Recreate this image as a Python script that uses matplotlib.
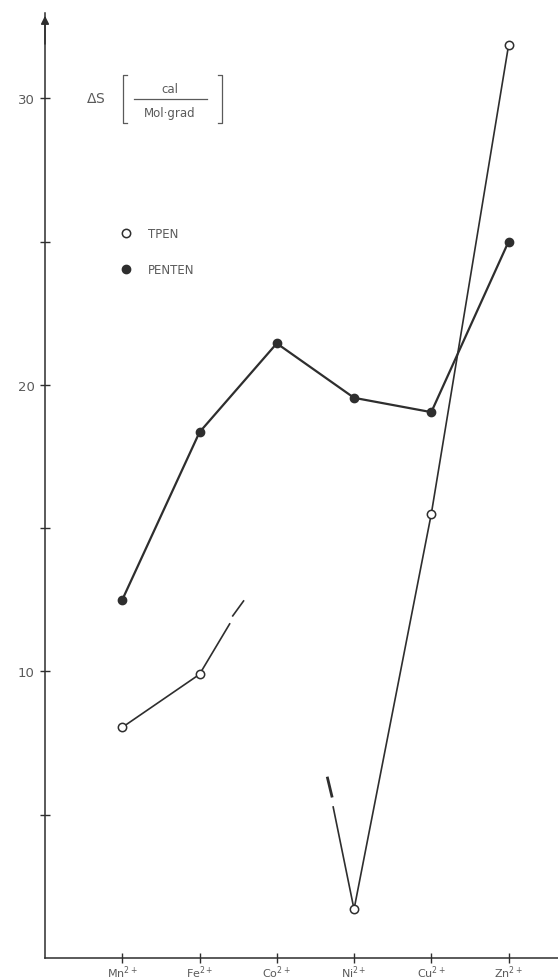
import matplotlib.pyplot as plt
from matplotlib.lines import Line2D

# Entropy of complex formation for the divalent 3d ions
ions = ['Mn', 'Fe', 'Co', 'Ni', 'Cu', 'Zn']
pos = [1, 2, 3, 4, 5, 6]

penten = [12.5, 18.35, 21.45, 19.55, 19.05, 25.0]

# TPEN has no Co value: the Fe and Ni ends only point towards it
tpen_x = [1, 2, 4, 5, 6]
tpen = [8.05, 9.9, 1.7, 15.5, 31.85]
fe_stub_x, fe_stub_y = [2.0, 2.39], [9.9, 11.66]
fe_dash_x, fe_dash_y = [2.43, 2.57], [11.94, 12.46]
ni_stub_x, ni_stub_y = [3.73, 4.0], [5.27, 1.7]
ni_dash_x, ni_dash_y = [3.657, 3.713], [6.28, 5.65]

ink = '#2e2e2e'
grey = '#5a5a5a'

fig = plt.figure(figsize=(5.58, 9.79), dpi=100)
fig.patch.set_facecolor('white')
ax = fig.add_axes([45 / 558, 20 / 979, 513 / 558, 945 / 979])

ax.plot(pos, penten, c=ink, lw=1.6, marker='o', ms=6,
        mfc=ink, mec=ink, zorder=3)

ax.plot(tpen_x[:2], tpen[:2], c=ink, lw=1.2, zorder=2)
ax.plot(tpen_x[2:], tpen[2:], c=ink, lw=1.2, zorder=2)
for xs, ys in [(fe_stub_x, fe_stub_y), (fe_dash_x, fe_dash_y),
               (ni_stub_x, ni_stub_y)]:
    ax.plot(xs, ys, c=ink, lw=1.2, zorder=2)
ax.plot(ni_dash_x, ni_dash_y, c=ink, lw=2.0, zorder=2)
ax.plot(tpen_x, tpen, ls='none', marker='o', ms=6, mfc='white',
        mec=ink, mew=1.1, zorder=4)

ax.set_xlim(0, 6.64)
ax.set_ylim(0, 32.98)

for side in ['top', 'right']:
    ax.spines[side].set_visible(False)
for side in ['left', 'bottom']:
    ax.spines[side].set_color(ink)
    ax.spines[side].set_linewidth(1.1)

ax.set_xticks(pos)
ax.set_xticklabels([f'{n}$^{{2+}}$' for n in ions])
ax.set_yticks([5, 10, 15, 20, 25, 30])
ax.set_yticklabels(['', '10', '', '20', '', '30'])
ax.tick_params(axis='both', direction='inout', length=7, width=1.0,
               color=ink, labelcolor=grey, labelsize=9.5, pad=4)
ax.tick_params(axis='x', labelsize=8, pad=0.3)

# arrow head on top of the y axis
ax.annotate('', xy=(0, 32.98), xytext=(0, 31.8),
            arrowprops=dict(arrowstyle='-|>', color=ink, lw=1.1,
                            mutation_scale=12),
            annotation_clip=False)

# axis title: Delta S [cal / Mol.grad]
def px(x, y):
    return x / 558, 1 - y / 979

fig.text(*px(86, 99), r'$\Delta$S', fontsize=10, color=grey,
         ha='left', va='center')
fig.text(*px(170, 90), 'cal', fontsize=8.5, color=grey,
         ha='center', va='center')
fig.text(*px(170, 113), 'Mol·grad', fontsize=8.5, color=grey,
         ha='center', va='center')
frac = [px(134, 100), px(207, 100)]
fig.add_artist(Line2D([frac[0][0], frac[1][0]], [frac[0][1], frac[1][1]],
                      color=grey, lw=0.9))
for x0, d in [(123, 4), (222, -4)]:
    pts = [px(x0 + d, 76), px(x0, 76), px(x0, 124), px(x0 + d, 124)]
    fig.add_artist(Line2D([p[0] for p in pts], [p[1] for p in pts],
                          color=grey, lw=0.9))

handles = [
    Line2D([], [], ls='none', marker='o', ms=6, mfc='white', mec=ink,
           mew=1.1, label='TPEN'),
    Line2D([], [], ls='none', marker='o', ms=6, mfc=ink, mec=ink,
           label='PENTEN'),
]
leg = ax.legend(handles=handles, loc='upper left',
                bbox_to_anchor=(0.125, 0.785), frameon=False,
                fontsize=8.5, labelspacing=1.95, handlelength=1.0,
                handletextpad=1.4)
for t in leg.get_texts():
    t.set_color(grey)

fig.savefig('out.png', dpi=100, facecolor='white')
